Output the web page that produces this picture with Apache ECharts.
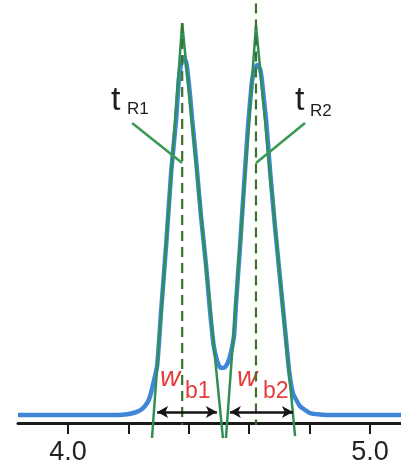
<!DOCTYPE html>
<html>
<head>
<meta charset="UTF-8">
<title>Chromatogram</title>
<script src="https://cdn.jsdelivr.net/npm/echarts@6/dist/echarts.min.js"></script>
<style>
  html, body { margin: 0; padding: 0; background: #fff; }
</style>
</head>
<body>
<div id="main" style="width:401px;height:466px;"></div>
<script type="text/javascript">
// detector trace (time, signal)
var traceTime = [3.834, 4.139, 4.189, 4.222, 4.245, 4.262, 4.272, 4.281, 4.295, 4.308, 4.326, 4.342,
  4.358, 4.367, 4.374, 4.381, 4.391, 4.397, 4.404, 4.411, 4.424, 4.440, 4.457, 4.470, 4.482,
  4.493, 4.503, 4.510, 4.520, 4.530, 4.540, 4.550, 4.556, 4.570, 4.583, 4.596, 4.608, 4.616,
  4.626, 4.636, 4.642, 4.649, 4.656, 4.669, 4.685, 4.702, 4.719, 4.732, 4.745, 4.768, 4.801,
  4.834, 4.884, 5.103];
var traceSignal = [0, 0, 0.13, 0.64, 1.53, 3.06, 4.85, 7.65, 12.5, 26.3, 44.6, 62.5,
  75.5, 85.7, 89.5, 91.3, 90.1, 86.7, 81.6, 75.5, 65.1, 51.0, 38.3, 26.8, 17.9,
  14.0, 12.2, 12.0, 12.2, 13.5, 16.1, 20.4, 28.1, 43.4, 58.7, 73.5, 84.2, 88.0,
  89.3, 88.3, 85.5, 80.4, 75.3, 62.5, 48.5, 35.0, 21.7, 11.5, 5.6, 2.3, 0.5,
  0.13, 0, 0];

// tangent triangles: apex and the two feet of each peak
var apexTime = [4.378, 4.6225];
var apexSignal = [100, 99.5];
var footTime = [[4.278, 4.513], [4.523, 4.752]];
var footSignal = [[-5.87, -5.87], [-5.87, -5.36]];

// retention time markers
var tRTop = [100, 105];
var tRBottom = -2.55;
var tRNames = ['R1', 'R2'];
var calloutTime = [4.212, 4.785];
var calloutSignal = 74.5;
var calloutEndSignal = 64.3;

// peak base widths
var wbTime = [[4.295, 4.493], [4.536, 4.745]];
var wbSignal = 0.77;
var wbNames = ['b1', 'b2'];

var tickValues = [4.0, 4.2, 4.4, 4.6, 4.8, 5.0];
var labelValues = [4.0, 5.0];

var green = '#2f8f55';
var dashGreen = '#3a7429';

var series = [];

series.push({
  type: 'line',
  data: traceTime.map(function (t, i) { return [t, traceSignal[i]]; }),
  symbol: 'none',
  smooth: 0.15,
  lineStyle: { color: '#3f86d8', width: 4.5 },
  z: 2
});

for (var p = 0; p < 2; p++) {
  series.push({
    type: 'line',
    data: [[footTime[p][0], footSignal[p][0]], [apexTime[p], apexSignal[p]], [footTime[p][1], footSignal[p][1]]],
    symbol: 'none',
    clip: false,
    lineStyle: { color: green, width: 2.5 },
    z: 3
  });
  series.push({
    type: 'line',
    data: [[apexTime[p], tRTop[p]], [apexTime[p], tRBottom]],
    symbol: 'none',
    clip: false,
    lineStyle: { color: dashGreen, width: 2.2, type: [10, 6] },
    z: 4
  });
  series.push({
    type: 'line',
    data: [[calloutTime[p], calloutSignal], [apexTime[p], calloutEndSignal]],
    symbol: 'none',
    clip: false,
    lineStyle: { color: '#3a9a52', width: 2.5 },
    z: 4
  });
}

series.push({
  type: 'line',
  data: [],
  markLine: {
    silent: true,
    animation: false,
    symbol: ['arrow', 'arrow'],
    symbolSize: [9, 11],
    label: { show: false },
    lineStyle: { color: '#151515', width: 2.5, type: 'solid' },
    data: wbTime.map(function (w) {
      return [{ coord: [w[0], wbSignal] }, { coord: [w[1], wbSignal] }];
    })
  },
  z: 5
});

var myChart = echarts.init(document.getElementById('main'));

var graphics = [];
var tX = [111, 295];
var subX = [127, 310];
var subY = [109, 111];
var wX = [160, 237];
var bX = [185, 263];
for (var k = 0; k < 2; k++) {
  graphics.push({
    type: 'text', x: tX[k], y: 101,
    style: { text: 't', font: '34px "Liberation Sans"', fill: '#1e1e1e', verticalAlign: 'middle' }
  });
  graphics.push({
    type: 'text', x: subX[k], y: subY[k],
    style: { text: tRNames[k], font: '17px "Liberation Sans"', fill: '#1e1e1e', verticalAlign: 'middle' }
  });
  graphics.push({
    type: 'text', x: wX[k], y: 378,
    style: { text: 'w', font: 'italic 28px "Liberation Sans"', fill: '#e63c3c', verticalAlign: 'middle' }
  });
  graphics.push({
    type: 'text', x: bX[k], y: 392,
    style: { text: wbNames[k], font: '23px "Liberation Sans"', fill: '#e63c3c', verticalAlign: 'middle' }
  });
}

myChart.setOption({
  animation: false,
  backgroundColor: '#fff',
  grid: { left: 18, right: 0, top: 0, bottom: 43 },
  xAxis: {
    type: 'value',
    min: 3.834,
    max: 5.103,
    axisLine: { onZero: false, lineStyle: { color: '#1a1a1a', width: 3 } },
    axisTick: { show: true, customValues: tickValues, length: 11, lineStyle: { color: '#1a1a1a', width: 2 } },
    axisLabel: {
      customValues: labelValues,
      formatter: function (v) { return v.toFixed(1); },
      fontSize: 27,
      fontFamily: 'Liberation Sans',
      color: '#222',
      margin: 16
    },
    splitLine: { show: false }
  },
  yAxis: {
    type: 'value',
    min: -2.04,
    max: 105.9,
    show: false,
    splitLine: { show: false }
  },
  series: series,
  graphic: graphics
});
</script>
</body>
</html>
